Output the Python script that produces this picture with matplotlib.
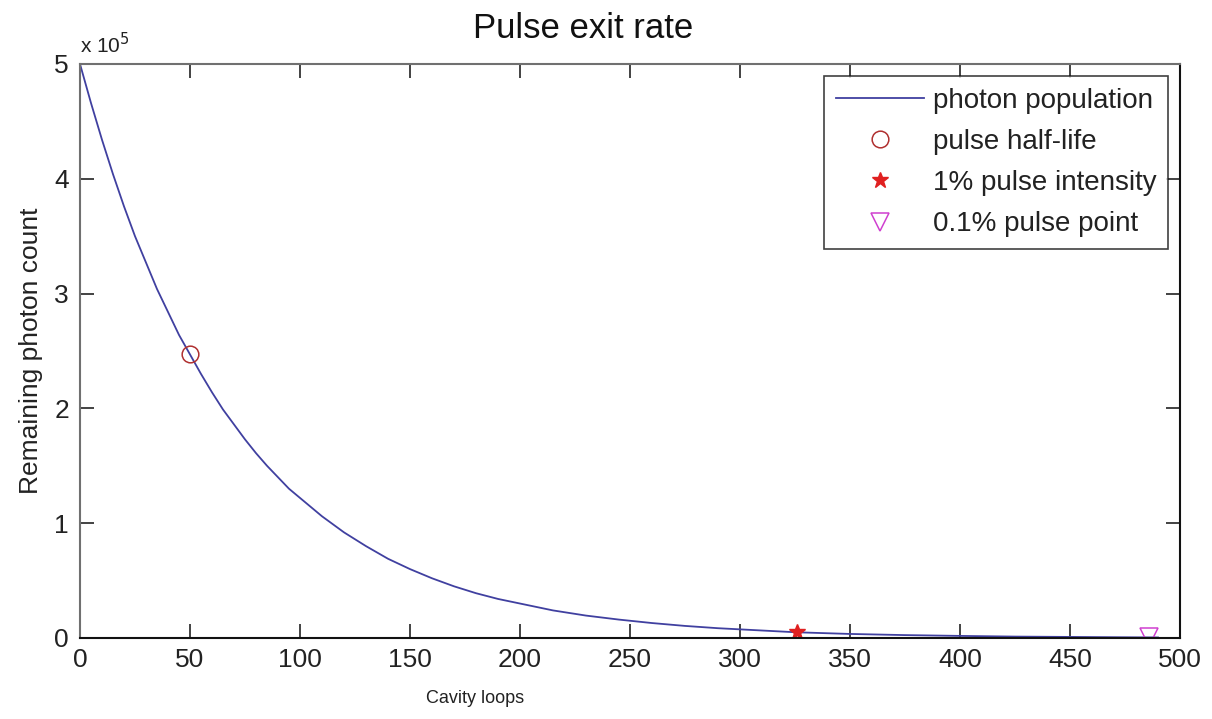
import numpy as np
import matplotlib
matplotlib.use("Agg")
import matplotlib.pyplot as plt
from matplotlib.ticker import FuncFormatter

plt.rcParams['font.family'] = ['Liberation Sans', 'DejaVu Sans']

# photon population
loops = [0, 5, 10, 15, 20, 25, 30, 35, 40, 45, 50, 55, 60, 65, 70, 75, 80,
         85, 90, 95, 100, 110, 120, 130, 140, 150, 160, 170, 180, 190, 200,
         215, 230, 245, 260, 275, 290, 305, 325, 350, 375, 400, 425, 450,
         475, 490]
photons = [500000, 466000, 434000, 404000, 376000, 350000, 327000, 304000,
           284000, 264000, 247000, 230000, 214000, 199000, 186000, 173000,
           161000, 150000, 140000, 130000, 122000, 106000, 92000, 80000,
           69000, 60000, 52000, 45000, 39000, 34000, 30000, 24000, 19500,
           16000, 13000, 10500, 8500, 7000, 5000, 3500, 2500, 1800, 1200,
           900, 600, 450]

# marked points
half_life = (50, 247000)
one_pct = (326, 5000)
tenth_pct = (486, 500)

fig = plt.figure(figsize=(12.12, 7.19), dpi=100)
ax = fig.add_axes([0.066, 0.1127, 0.9076, 0.7983])

ax.plot(loops, photons, color='#4040a0', lw=1.3, label='photon population')
ax.plot(*half_life, 'o', ms=12, mfc='none', mec='#b03030', mew=1.1, label='pulse half-life')
ax.plot(*one_pct, '*', ms=12, color='#e02020', label='1% pulse intensity')
ax.plot(*tenth_pct, 'v', ms=13, mfc='none', mec='#d040d0', mew=1.1, label='0.1% pulse point')

ax.set_xlim(0, 500)
ax.set_ylim(0, 500000)
ax.set_xticks(np.arange(0, 501, 50))
ax.set_yticks(np.arange(0, 500001, 100000))
ax.yaxis.set_major_formatter(FuncFormatter(lambda v, p: '%g' % (v / 1e5)))

ax.tick_params(direction='in', length=10, width=1.2, top=True, right=True,
               labelsize=19, colors='#222222')
ax.tick_params(axis='x', pad=7)
ax.tick_params(axis='y', pad=8)

for side in ['left', 'top']:
    ax.spines[side].set_color('#707070')
for side in ['bottom', 'right']:
    ax.spines[side].set_color('#111111')
for s in ax.spines.values():
    s.set_linewidth(1.5)

ax.text(0.0, 1.012, r'x 10$^5$', transform=ax.transAxes, fontsize=15,
        ha='left', va='bottom', color='#222222')

ax.set_title('Pulse exit rate', fontsize=25, x=0.457, y=1.03, color='#111111')
ax.set_xlabel('Cavity loops', fontsize=13, color='#222222')
ax.xaxis.set_label_coords(0.359, -0.09)
ax.set_ylabel('Remaining photon count', fontsize=19, color='#222222')
ax.yaxis.set_label_coords(-0.034, 0.5)

leg = ax.legend(loc='upper right', fontsize=20, frameon=True, fancybox=False,
                edgecolor='#111111', borderaxespad=0.45, handlelength=3.2,
                handletextpad=0.3, labelspacing=0.55, borderpad=0.4)
leg.get_frame().set_linewidth(1.2)
for t in leg.get_texts():
    t.set_color('#222222')

fig.savefig('out.png', dpi=100)
